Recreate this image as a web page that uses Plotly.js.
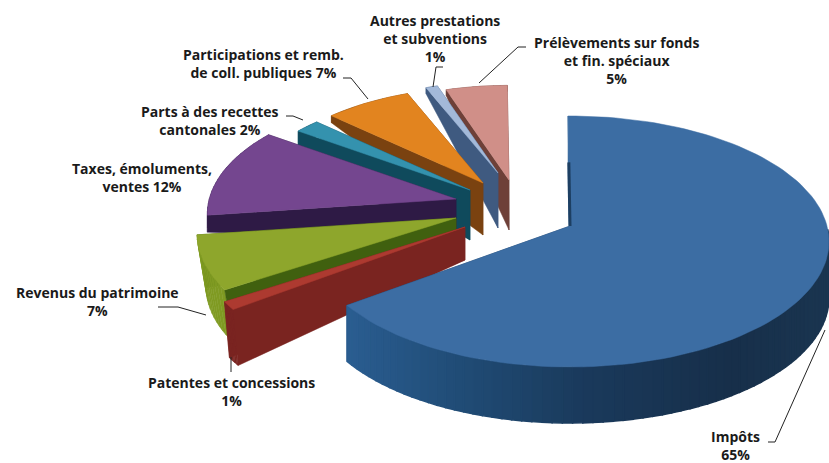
<!DOCTYPE html>
<html><head><meta charset="utf-8">
<script src="https://cdn.plot.ly/plotly-3.0.1.min.js"></script>
<style>html,body{margin:0;padding:0;background:#fff}</style></head>
<body><div id="chart" style="width:829px;height:463px"></div>
<script>
// Data, clockwise from the top of the pie
const categories = ["Impôts","Patentes et concessions","Revenus du patrimoine","Taxes, émoluments, ventes","Parts à des recettes cantonales","Participations et remb. de coll. publiques","Autres prestations et subventions","Prélèvements sur fonds et fin. spéciaux"];
const shares = [65,1,7,12,2,7,1,5];

// Label text
const labelTexts = ["Impôts<br>65%","Patentes et concessions<br>1%","Revenus du patrimoine<br>7%","Taxes, émoluments,<br>ventes 12%","Parts à des recettes<br>cantonales 2%","Participations et remb.<br>de coll. publiques 7%","Autres prestations<br>et subventions<br>1%","Prélèvements sur fonds<br>et fin. spéciaux<br>5%"];
const labelX = [735,231,97,142,210,263,435,616];
const labelY = [445,391,301,177.5,120.5,63.5,38,60];

// Styling and exploded-pie geometry per slice
const topColor  = ["#3c6da3","#ad3a30","#8ea62c","#74468f","#3492ae","#e2841f","#a3b9d9","#d08f88"];
const wallColor = ["#1d3f62","#7a2420","#40600f","#2e1a45","#0f4a5c","#7a4210","#3f5a80","#6e4038"];
const arcColor  = ["#1d3f62","#7a2420","#7f9a22","#3a2055","#0f4a5c","#7a4210","#3f5a80","#6e4038"];
const apexX = [570,465,456,456,470,483,498,509];
const apexY = [226,227,218,199,190,183,173,180];
const radius = [1,1.04,1,.96,.88,.87,.83,.86];
const apexDepth = [56,33,30,40,50,52,55,50];
const rimDepth = [56,56,53,17,14,7,6,6];
const lean = [0,5,9,0,0,0,0,0];

// Projection of the tilted pie (perspective foreshortening)
const k = .1235, B = 257, A = 123.6, startDeg = -.5;
function project(i, deg, r){
  const t = deg*Math.PI/180, u = Math.sin(t)*r, v = -Math.cos(t)*r, w = 1-k*v, s = radius[i];
  return [apexX[i]+s*B*u/w, apexY[i]+s*A*v/w];
}
function lowered(i, p, r){
  return [p[0]+lean[i]*r, p[1]+apexDepth[i]+(rimDepth[i]-apexDepth[i])*r];
}
const traces = [];
function poly(pts, color, name, lw){
  traces.push({type:"scatter",mode:"lines",x:pts.map(p=>p[0]),y:pts.map(p=>p[1]),fill:"toself",fillcolor:color,
    line:{width:lw||.5,color:color},name:name,showlegend:false,hoverinfo:"name"});
}
const rimStops = [[0,[43,94,146]],[.25,[32,76,118]],[.5,[26,58,92]],[.8,[23,47,74]],[1,[26,53,80]]];
function rimShade(x){ // x: 0 at left end of the rim, 1 at the right end
  for(let n=1;n<rimStops.length;n++){
    if(x<=rimStops[n][0]){
      const a=rimStops[n-1], b=rimStops[n], f=(x-a[0])/(b[0]-a[0]);
      return "rgb("+a[1].map((v,m)=>Math.round(v+(b[1][m]-v)*f)).join(",")+")";
    }
  }
  return "rgb(26,53,80)";
}
// Slice angular spans
const spans=[]; let acc=startDeg;
shares.forEach(s=>{spans.push([acc,acc+s*3.6]);acc+=s*3.6;});

function drawSlice(i){
  const [a0,a1]=spans[i], name=categories[i];
  const arc=[]; const n=Math.max(6,Math.round((a1-a0)/2));
  for(let j=0;j<=n;j++) arc.push(a0+(a1-a0)*j/n);
  const apex=project(i,a0,0), apexLow=lowered(i,apex,0);
  const e=project(i,a1,1); poly([apex,e,lowered(i,e,1),apexLow,apex],wallColor[i],name);
  for(let j=0;j<n;j++){
    const p=project(i,arc[j],1), q=project(i,arc[j+1],1);
    let col=arcColor[i];
    if(i===0){
      if(p[1]<226) continue;           // back of the rim is hidden
      col=rimShade((p[0]-343)/(829-343));
    }
    poly([p,q,lowered(i,q,1),lowered(i,p,1),p],col,name,i===0?1.5:.5);
  }
  const st=project(i,a0,1); poly([apex,st,lowered(i,st,1),apexLow,apex],i===0?rimShade(0):wallColor[i],name);
  const pts=[apex]; arc.forEach(d=>pts.push(project(i,d,1))); pts.push(apex);
  poly(pts,topColor[i],name);
  if(i===0){
    const a=project(0,a0,.55);
    traces.push({type:"scatter",mode:"lines",x:[apex[0],a[0]],y:[apex[1],a[1]],line:{width:3,color:"#1d3f62"},showlegend:false,hoverinfo:"skip"});
  }
}
// Back-to-front
for(let i=shares.length-1;i>=0;i--) drawSlice(i);

const leaders=[
 [[768,442],[775,442],[825,330]],
 [[231,357],[231,372]],
 [[158,307],[178,307],[206,315]],
 [[286,116],[293,116],[303,120]],
 [[343,78],[351,78],[368,99]],
 [[443,67],[436,67],[433,87]],
 [[526,47],[518,47],[479,83]]
];
leaders.forEach(l=>traces.push({type:"scatter",mode:"lines",x:l.map(p=>p[0]),y:l.map(p=>p[1]),line:{width:1,color:"#222"},showlegend:false,hoverinfo:"skip"}));

const annotations=labelTexts.map((t,i)=>({x:labelX[i],y:labelY[i],xref:"x",yref:"y",text:"<b>"+t+"</b>",showarrow:false,align:"center",xanchor:"center",yanchor:"middle",font:{family:"Open Sans, sans-serif",size:14,color:"#1a1a1a"}}));

Plotly.newPlot("chart",traces,{
  width:829,height:463,margin:{l:0,r:0,t:0,b:0},paper_bgcolor:"#fff",plot_bgcolor:"#fff",showlegend:false,
  xaxis:{range:[0,829],visible:false,fixedrange:true},
  yaxis:{range:[463,0],visible:false,fixedrange:true},
  annotations:annotations
},{displayModeBar:false});
</script></body></html>
